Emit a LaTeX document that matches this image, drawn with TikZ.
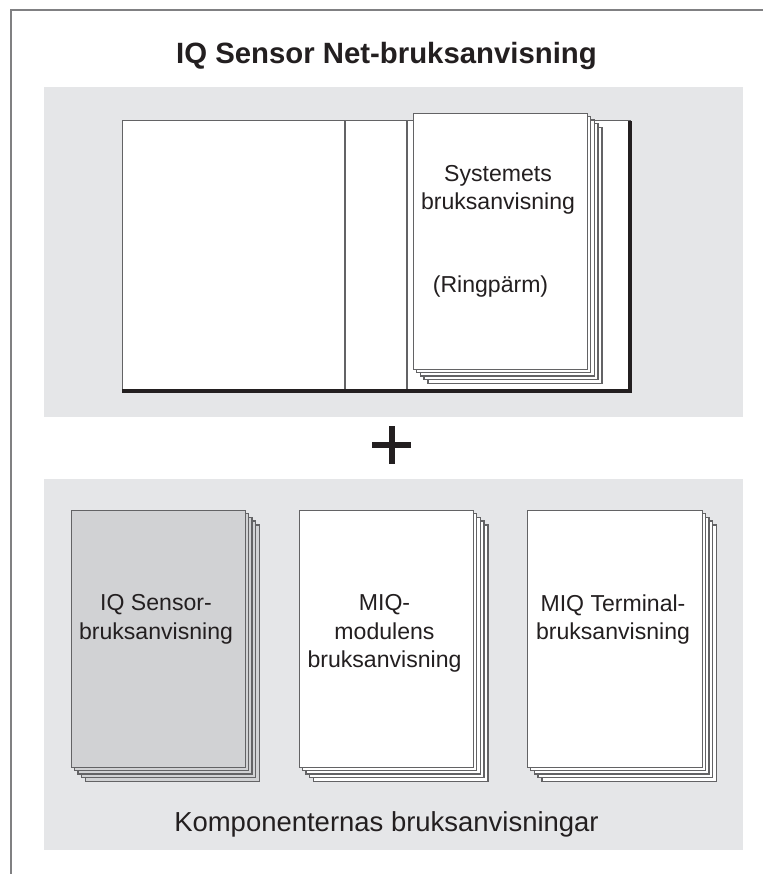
\documentclass[tikz,border=0pt]{standalone}
\usepackage{fontspec}
\setmainfont{Liberation Sans}
\definecolor{panel}{HTML}{E5E6E8}
\definecolor{ink}{HTML}{231F20}
\definecolor{edge}{HTML}{636365}
\definecolor{frameline}{HTML}{808082}
\definecolor{grayp}{HTML}{D1D2D4}
\tikzset{
  x=0.75pt,y=-0.75pt,
  sheet/.style={draw=edge,line width=1.05pt,fill=white},
  label/.style={font=\fontsize{17.3pt}{21.3pt}\selectfont,text=ink,align=center,inner sep=0pt}
}
\newcommand{\sheetstack}[6]{% left top right bottom fill name
  \foreach \k in {4,3,2,1} {
    \path[sheet,fill=#5] ({#1+3.7*\k},{#2+3.7*\k}) rectangle ({#3+3.7*\k},{#4+3.7*\k});
  }
  \node[sheet,fill=#5,inner sep=0pt,minimum width={(#3-#1)*0.75pt},minimum height={(#4-#2)*0.75pt},anchor=north west] (#6) at (#1,#2) {};
}
\begin{document}
\begin{tikzpicture}
\useasboundingbox (0,0) rectangle (763,874);
\fill[white] (0,0) rectangle (763,874);
\draw[frameline,line width=1.5pt] (763,10.5) -- (11,10.5) -- (11,874);
\node[font=\bfseries\fontsize{22pt}{26pt}\selectfont,text=ink,inner sep=0pt] (title) at (386.5,55.5) {IQ Sensor Net-bruksanvisning};
\fill[panel] (44,87) rectangle (743,416.5);
\fill[panel] (44,479) rectangle (743,849.5);
% binder
\draw[sheet] (122.5,120.5) rectangle (630,390);
\draw[sheet] (345,120.5) -- (345,390);
\draw[sheet] (407,120.5) -- (407,390);
\draw[ink,line width=2.7pt] (122,391) -- (630.2,391) -- (630.2,121);
\sheetstack{413}{112.5}{587}{368.5}{white}{sysbook}
\node[label] (systext) at (498,190) {Systemets\\bruksanvisning};
\node[label] (ring) at (490.5,286.7) {(Ringpärm)};
% plus
\fill[ink] (389,426) rectangle (394.5,464);
\fill[ink] (372,442) rectangle (411,448);
% components
\sheetstack{70.5}{510}{244.5}{766.5}{grayp}{bookA}
\sheetstack{298.5}{510}{473}{766.5}{white}{bookB}
\sheetstack{527}{510}{701.5}{766.5}{white}{bookC}
\node[label] (ta) at (156,619.5) {IQ Sensor-\\bruksanvisning};
\node[label] (tb) at (384.5,633.5) {MIQ-\\modulens\\bruksanvisning};
\node[label] (tc) at (613,619.5) {MIQ Terminal-\\bruksanvisning};
\node[font=\fontsize{20.6pt}{24pt}\selectfont,text=ink,inner sep=0pt,anchor=base west] (comp) at (174,831) {Komponenternas bruksanvisningar};
\end{tikzpicture}
\end{document}
